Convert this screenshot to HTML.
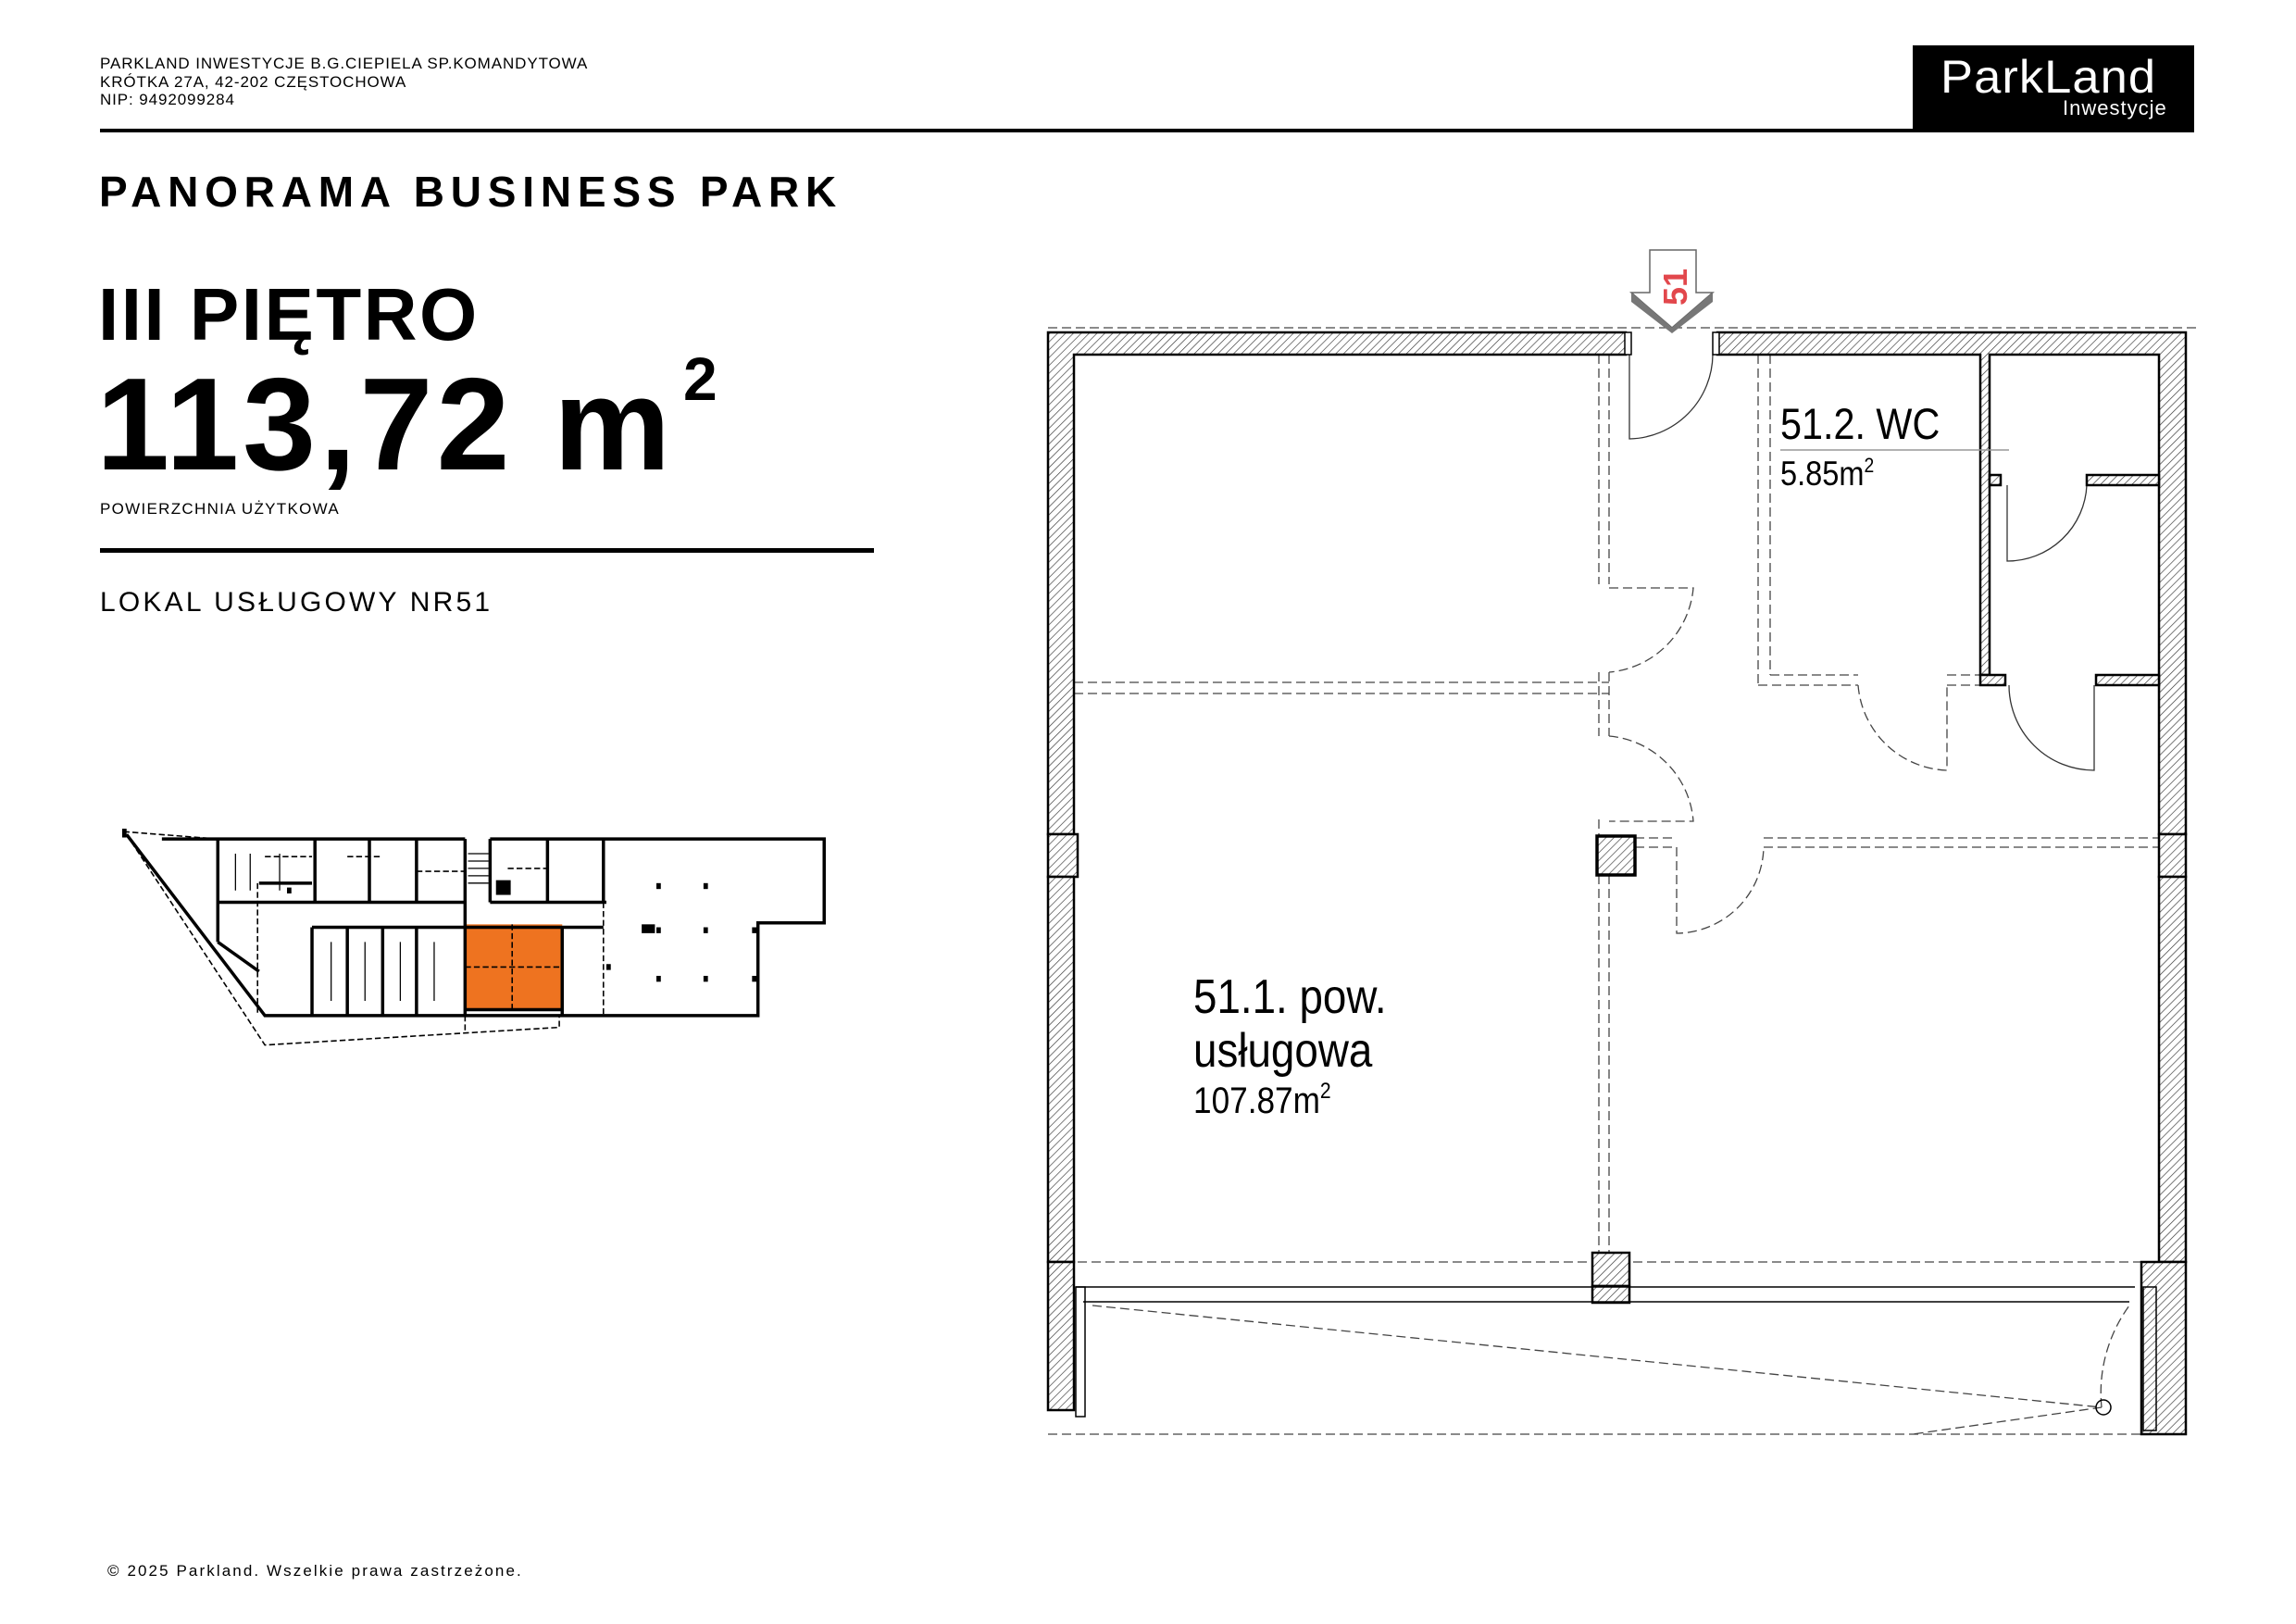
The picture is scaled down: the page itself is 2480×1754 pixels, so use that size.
<!DOCTYPE html>
<html><head><meta charset="utf-8"><style>
html,body{margin:0;padding:0;background:#fff}
body{width:2480px;height:1754px;position:relative;overflow:hidden;font-family:"Liberation Sans",sans-serif;color:#000}
.t{position:absolute;white-space:nowrap;line-height:1}
</style></head><body>
<div class="t" style="left:108px;top:59px;font-size:17px;line-height:19.5px;letter-spacing:0.9px">PARKLAND INWESTYCJE B.G.CIEPIELA SP.KOMANDYTOWA<br>KRÓTKA 27A, 42-202 CZĘSTOCHOWA<br>NIP: 9492099284</div>
<div style="position:absolute;left:108px;top:139px;width:1960px;height:4px;background:#000"></div>
<div style="position:absolute;left:2066px;top:49px;width:304px;height:94px;background:#000"></div>
<div class="t" style="left:2096px;top:58px;font-size:50px;color:#fff;letter-spacing:1px;transform:scaleX(1.05);transform-origin:left">ParkLand</div>
<div class="t" style="left:2228px;top:106px;font-size:22px;color:#fff;letter-spacing:1px">Inwestycje</div>
<div class="t" style="left:107px;top:184px;font-size:46px;font-weight:bold;letter-spacing:6.8px">PANORAMA BUSINESS PARK</div>
<div class="t" style="left:106px;top:300px;font-size:80px;font-weight:bold;letter-spacing:2.5px">III PIĘTRO</div>
<div class="t" style="left:104px;top:388px;font-size:142px;font-weight:bold;letter-spacing:4px">113,72 m</div>
<div class="t" style="left:738px;top:376px;font-size:66px;font-weight:bold">2</div>
<div class="t" style="left:108px;top:541px;font-size:17px;letter-spacing:1.3px">POWIERZCHNIA UŻYTKOWA</div>
<div style="position:absolute;left:108px;top:592px;width:836px;height:5px;background:#000"></div>
<div class="t" style="left:108px;top:636px;font-size:30px;letter-spacing:3.2px">LOKAL USŁUGOWY NR51</div>
<div class="t" style="left:116px;top:1688px;font-size:17px;letter-spacing:2.1px">© 2025 Parkland. Wszelkie prawa zastrzeżone.</div>

<svg width="2480" height="1754" style="position:absolute;left:0;top:0" xmlns="http://www.w3.org/2000/svg">
<defs>
<pattern id="h" width="6" height="6" patternUnits="userSpaceOnUse" patternTransform="rotate(45)">
<rect width="6" height="6" fill="#fff"/><line x1="0" y1="0" x2="0" y2="6" stroke="#333" stroke-width="1.3"/></pattern>
</defs>
<g fill="none" stroke="#444" stroke-width="1.3" stroke-dasharray="10,5">
<line x1="1132" y1="354" x2="2372" y2="354"/>
<line x1="1132" y1="1549" x2="2361" y2="1549"/>
<line x1="1727" y1="383" x2="1727" y2="631"/><line x1="1738" y1="383" x2="1738" y2="631"/>
<line x1="1160" y1="737" x2="1738" y2="737"/><line x1="1160" y1="749" x2="1738" y2="749"/>
<line x1="1727" y1="726" x2="1727" y2="795"/><line x1="1738" y1="726" x2="1738" y2="795"/>
<line x1="1899" y1="383" x2="1899" y2="740"/><line x1="1912" y1="383" x2="1912" y2="729"/>
<line x1="1899" y1="740" x2="2007" y2="740"/><line x1="1912" y1="729" x2="2007" y2="729"/>
<line x1="2103" y1="740" x2="2139" y2="740"/><line x1="2103" y1="729" x2="2139" y2="729"/>
<line x1="1766" y1="905" x2="1811" y2="905"/><line x1="1766" y1="915" x2="1811" y2="915"/>
<line x1="1905" y1="905" x2="2332" y2="905"/><line x1="1905" y1="915" x2="2332" y2="915"/>
<line x1="1727" y1="945" x2="1727" y2="1353"/><line x1="1738" y1="945" x2="1738" y2="1353"/>
<line x1="1727" y1="885" x2="1727" y2="903"/>
<line x1="1164" y1="1363" x2="2313" y2="1363"/>
<path d="M1738 635 L1829 635 A100 100 0 0 1 1738 726"/>
<path d="M1738 795 A100 100 0 0 1 1829 887 L1738 887"/>
<path d="M2007 740 A100 100 0 0 0 2103 832 L2103 740"/>
<path d="M1811 915 L1811 1008 A95 95 0 0 0 1905 915"/>
<path d="M1180 1410 L2270 1520 L2066 1549"/>
<path d="M2270 1520 A160 160 0 0 1 2300 1410" />
</g>
<g fill="none" stroke="#333" stroke-width="1.3">
<path d="M1760 383 L1760 474 A92 92 0 0 0 1850 383"/>
<path d="M2168 524 L2168 606 A86 86 0 0 0 2254 524"/>
<path d="M2262 740 L2262 832 A92 92 0 0 1 2170 740"/>
</g>
<g fill="url(#h)" stroke="#000" stroke-width="2.5">
<path d="M1132 359 L1756 359 L1756 383 L1160 383 L1160 901 L1132 901 Z"/>
<path d="M1855 359 L2361 359 L2361 901 L2332 901 L2332 383 L2149 383 L2149 729 L2139 729 L2139 383 L1855 383 Z"/>
<rect x="1132" y="901" width="32" height="46"/>
<rect x="2332" y="901" width="29" height="46"/>
<rect x="1132" y="947" width="28" height="416"/>
<rect x="2332" y="947" width="29" height="416"/>
<rect x="1132" y="1363" width="28" height="160"/>
<rect x="2313" y="1363" width="48" height="186"/>
<rect x="2254" y="513" width="78" height="11"/>
<rect x="2149" y="513" width="12" height="11"/>
<rect x="2264" y="729" width="68" height="11"/>
<rect x="2139" y="729" width="27" height="11"/>
<rect x="1725" y="903" width="41" height="42" stroke-width="3.5"/>
<rect x="1720" y="1353" width="40" height="36"/>
<rect x="1720" y="1389" width="40" height="18"/>
</g>
<rect x="1755" y="359" width="7" height="24" fill="#fff" stroke="#000" stroke-width="1.5"/>
<rect x="1850" y="359" width="7" height="24" fill="#fff" stroke="#000" stroke-width="1.5"/>
<g stroke="#000" stroke-width="1.5" fill="none">
<line x1="1162" y1="1390" x2="2306" y2="1390"/>
<line x1="1170" y1="1406" x2="2300" y2="1406"/>
<rect x="1162" y="1390" width="10" height="140"/>
<rect x="2315" y="1390" width="14" height="155"/>
<circle cx="2272" cy="1520" r="8"/>
</g>
<path d="M1782 270 L1832 270 L1832 316 L1850 316 L1806 354 L1762 316 L1782 316 Z" fill="#fff" stroke="#666" stroke-width="1.5"/>
<path d="M1762 316 L1806 354 L1850 316 L1850 326 L1806 360 L1762 326 Z" fill="#777"/>
<text x="0" y="0" transform="translate(1822,330) rotate(-90)" font-family="Liberation Sans" font-weight="bold" font-size="36" fill="#e2474c">51</text>
<g font-family="Liberation Sans,sans-serif" fill="#000">
<text x="1923" y="474" font-size="47" transform="translate(1923,474) scale(0.88,1) translate(-1923,-474)">51.2. WC</text>
<line x1="1923" y1="486" x2="2170" y2="486" stroke="#999" stroke-width="1.5"/>
<text x="1923" y="524" font-size="37" transform="translate(1923,524) scale(0.88,1) translate(-1923,-524)">5.85m<tspan font-size="22" dy="-14">2</tspan></text>
<text x="1289" y="1094" font-size="52" transform="translate(1289,1094) scale(0.88,1) translate(-1289,-1094)">51.1. pow.</text>
<text x="1289" y="1152" font-size="52" transform="translate(1289,1152) scale(0.88,1) translate(-1289,-1152)">usługowa</text>
<text x="1289" y="1202" font-size="40" transform="translate(1289,1202) scale(0.88,1) translate(-1289,-1202)">107.87m<tspan font-size="24" dy="-16">2</tspan></text>
</g>
<g transform="scale(1.5897)" fill="none" stroke="#000">
<rect x="316" y="628" width="66" height="58" fill="#ee7320" stroke="none"/>
<g stroke-width="2.2">
<path d="M110 570 L316 570 M333 570 L560 570 L560 627 L515 627 L515 690 L180 690 L86 567"/>
<path d="M148 570 L148 640 M214 570 L214 613 M251 570 L251 613 M283 570 L283 613 M316 570 L316 690 M333 570 L333 613 M372 570 L372 613 M410 570 L410 613"/>
<path d="M148 613 L316 613 M333 613 L412 613 M212 630 L410 630"/>
<path d="M212 630 L212 690 M236 630 L236 690 M260 630 L260 690 M283 630 L283 690 M382 630 L382 690 M316 686 L382 686"/>
<path d="M148 640 L176 660 M176 600 L212 600"/>
</g>
<g stroke-width="1" stroke-dasharray="4,2">
<path d="M84 565 L148 570 M86 567 L180 710 L380 698 L380 690 M316 690 L316 700"/>
<path d="M316 657 L382 657 M348 628 L348 686 M175 600 L175 690 M410 613 L410 690 M410 570 L560 570"/>
<path d="M180 582 L212 582 M236 582 L260 582 M283 592 L316 592 M345 590 L372 590"/>
</g>
<g stroke-width="0.8">
<path d="M160 580 L160 605 M170 580 L170 605 M190 580 L190 605 M225 640 L225 680 M248 640 L248 680 M272 640 L272 680 M295 640 L295 680"/>
<path d="M318 580 L332 580 M318 585 L332 585 M318 590 L332 590 M318 595 L332 595 M318 600 L332 600"/>
</g>
<g fill="#000" stroke="none">
<rect x="83" y="563" width="3" height="6"/>
<rect x="446" y="600" width="3" height="4"/><rect x="478" y="600" width="3" height="4"/>
<rect x="446" y="630" width="3" height="4"/><rect x="478" y="630" width="3" height="4"/><rect x="511" y="630" width="3" height="4"/>
<rect x="446" y="663" width="3" height="4"/><rect x="478" y="663" width="3" height="4"/><rect x="511" y="663" width="3" height="4"/>
<rect x="412" y="655" width="3" height="4"/><rect x="436" y="628" width="9" height="6"/>
<rect x="337" y="598" width="10" height="10"/>
<rect x="195" y="603" width="3" height="4"/>
</g>
</g>
</svg>
</body></html>
